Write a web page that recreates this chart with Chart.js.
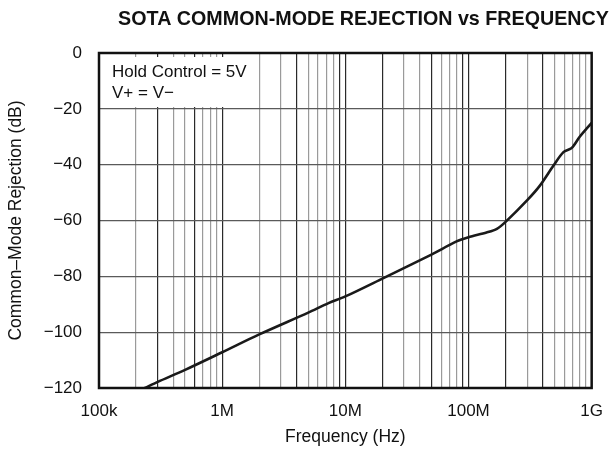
<!DOCTYPE html>
<html>
<head>
<meta charset="utf-8">
<script src="https://cdn.jsdelivr.net/npm/chart.js@4.4.1/dist/chart.umd.min.js"></script>
<style>
  html, body { margin: 0; padding: 0; background: #fff; }
  #wrap { width: 616px; height: 451px; }
</style>
</head>
<body>
<div id="wrap"><canvas id="c" width="616" height="451"></canvas></div>
<script>
// Common-mode rejection curve, frequency in Hz, rejection in dB
const freqHz = [235e3, 300e3, 500e3, 1e6, 2e6, 5e6, 7.3e6, 1e7, 2e7, 5e7, 8e7, 1e8, 1.4e8, 1.7e8, 2e8, 3e8, 3.8e8, 4.9e8, 5.9e8, 6.9e8, 8e8, 1e9];
const cmrDb  = [-120, -117.8, -113.5, -107.2, -100.8, -93, -89.6, -87.2, -80.8, -72.2, -67.5, -66, -64.3, -63, -60.5, -52.7, -47.5, -40.3, -35.5, -34, -30, -25];

// Log grid: every 1..9 multiple of each decade
const gridFreqs = [];
for (let e = 5; e <= 8; e++) for (let m = 1; m <= 9; m++) gridFreqs.push(m * Math.pow(10, e));
gridFreqs.push(1e9);

// Decade labels on the frequency axis
const decadeValues = [1e5, 1e6, 1e7, 1e8, 1e9];
const decadeLabels = ['100k', '1M', '10M', '100M', '1G'];

// Gridlines printed darker than the rest
const darkGrid = [3e5, 6e5, 1e6, 4e6, 9e6, 1e7, 2e7, 5e7, 9e7, 1e8, 2e8, 4e8];

const yTicks = [0, -20, -40, -60, -80, -100, -120];

const titleText = 'SOTA COMMON-MODE REJECTION vs FREQUENCY';
const noteLines = ['Hold Control = 5V', 'V+ = V\u2212'];

const FONT = "'Liberation Sans', Arial, Helvetica, sans-serif";

const isDark = v => darkGrid.some(d => Math.abs(d - v) / d < 1e-6);

const framePlugin = {
  id: 'frame',
  // clear a panel behind the test-condition note, above the -20 dB line
  beforeDatasetsDraw(chart) {
    const { ctx, chartArea: a } = chart;
    ctx.save();
    ctx.fillStyle = '#fff';
    ctx.fillRect(a.left, 57, 160, 50);
    ctx.restore();
  },
  afterDraw(chart) {
    const { ctx, chartArea: a } = chart;
    ctx.save();
    ctx.strokeStyle = '#111';
    ctx.lineWidth = 2.5;
    ctx.strokeRect(a.left, a.top, a.right - a.left, a.bottom - a.top);
    ctx.fillStyle = '#111';
    ctx.textAlign = 'center';
    ctx.textBaseline = 'middle';
    ctx.font = 'bold 19.7px ' + FONT;
    ctx.fillText(titleText, 363.5, 20);
    ctx.textAlign = 'left';
    ctx.font = '17px ' + FONT;
    ctx.fillText(noteLines[0], a.left + 13, 72);
    ctx.fillText(noteLines[1], a.left + 13, 93);
    ctx.restore();
  }
};

new Chart(document.getElementById('c'), {
  type: 'line',
  data: {
    datasets: [{
      data: freqHz.map((f, i) => ({ x: f, y: cmrDb[i] })),
      borderColor: '#1a1a1a',
      borderWidth: 2.6,
      pointRadius: 0,
      tension: 0.3,
      fill: false
    }]
  },
  options: {
    responsive: false,
    animation: false,
    devicePixelRatio: 1,
    layout: { padding: { top: 53, right: 21, left: 0, bottom: 0 } },
    plugins: { legend: { display: false }, tooltip: { enabled: false }, title: { display: false } },
    scales: {
      x: {
        type: 'logarithmic',
        min: 1e5,
        max: 1e9,
        afterBuildTicks(scale) { scale.ticks = gridFreqs.map(v => ({ value: v })); },
        afterFit(scale) { scale.height = 63; },
        grid: {
          drawTicks: false,
          lineWidth: 1.2,
          color: c => (c.tick && isDark(c.tick.value)) ? '#2a2a2a' : '#9a9a9a'
        },
        border: { display: false },
        ticks: {
          autoSkip: false,
          maxRotation: 0,
          padding: 13,
          color: '#111',
          font: { family: FONT, size: 17 },
          callback: v => {
            const i = decadeValues.findIndex(d => Math.abs(d - v) / d < 1e-6);
            return i >= 0 ? decadeLabels[i] : '';
          }
        },
        title: {
          display: true,
          text: 'Frequency (Hz)',
          color: '#111',
          font: { family: FONT, size: 17.5 },
          padding: { top: 0, bottom: 3 }
        }
      },
      y: {
        min: -120,
        max: 0,
        afterBuildTicks(scale) { scale.ticks = yTicks.map(v => ({ value: v })); },
        afterFit(scale) { scale.width = 99; },
        grid: { drawTicks: false, lineWidth: 1.2, color: '#5a5a5a' },
        border: { display: false },
        ticks: {
          padding: 17,
          color: '#111',
          font: { family: FONT, size: 17 },
          callback: v => (v < 0 ? '\u2212' + Math.abs(v) : String(v))
        },
        title: {
          display: true,
          text: 'Common\u2013Mode Rejection (dB)',
          color: '#111',
          font: { family: FONT, size: 17.5 },
          padding: { top: 6, bottom: 0 }
        }
      }
    }
  },
  plugins: [framePlugin]
});
</script>
</body>
</html>
